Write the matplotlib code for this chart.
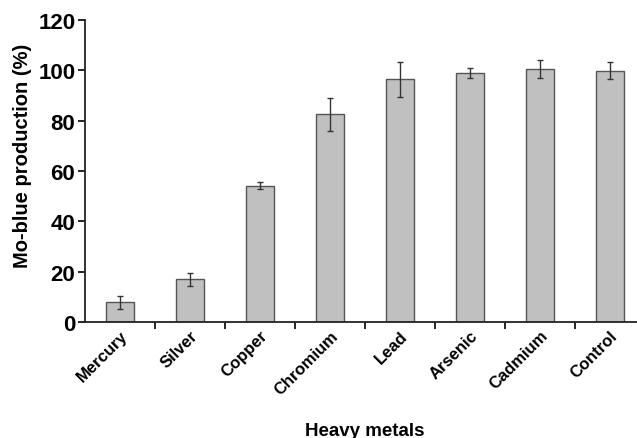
import numpy as np
import matplotlib
matplotlib.use('Agg')
import matplotlib.pyplot as plt

metals = ['Mercury', 'Silver', 'Copper', 'Chromium', 'Lead', 'Arsenic', 'Cadmium', 'Control']
production = [7.8, 17.0, 54.2, 82.5, 96.4, 98.9, 100.6, 99.9]
errors = [2.6, 2.6, 1.5, 6.7, 6.9, 2.0, 3.7, 3.4]

plt.rcParams['font.family'] = ['Liberation Sans', 'DejaVu Sans']
plt.rcParams['font.weight'] = 'bold'

fig = plt.figure(figsize=(6.37, 4.39), dpi=100)
# axes run a bit past the right edge, like the cropped original
ax = fig.add_axes([85 / 637, 1 - 323 / 439, 560 / 637, 302 / 439])

x = np.arange(len(metals))
ax.bar(x, production, width=0.4, color='#c0c0c0', edgecolor='#555555', linewidth=1.0,
       yerr=errors, capsize=2, error_kw=dict(ecolor='#333333', elinewidth=1.0, capthick=1.0))

ax.set_xlim(-0.5, len(metals) - 0.5)
ax.set_ylim(0, 120)
ax.set_yticks(range(0, 121, 20))
ax.tick_params(axis='y', labelsize=16, length=5, width=1.2, direction='out', pad=2)

# ticks sit on the category boundaries, labels under the bars
ax.set_xticks(x[:-1] + 0.5)
ax.set_xticklabels([])
ax.set_xticks(x, minor=True)
ax.set_xticklabels(metals, minor=True, rotation=45, ha='right', rotation_mode='anchor', fontsize=12, fontweight='bold')
ax.tick_params(axis='x', which='major', length=5, width=1.2, direction='out')
ax.tick_params(axis='x', which='minor', length=0, pad=4)

for lab in ax.get_yticklabels():
    lab.set_fontweight('bold')

for s in ['top', 'right']:
    ax.spines[s].set_visible(False)
for s in ['left', 'bottom']:
    ax.spines[s].set_linewidth(1.3)
    ax.spines[s].set_color('#222222')

ax.set_ylabel('Mo-blue production (%)', fontsize=14.5, fontweight='bold')
ax.yaxis.set_label_coords(-0.095, 0.555)
ax.set_xlabel('Heavy metals', fontsize=13.5, fontweight='bold')
ax.xaxis.set_label_coords(0.5, -0.33)

fig.savefig('out.png', dpi=100)
